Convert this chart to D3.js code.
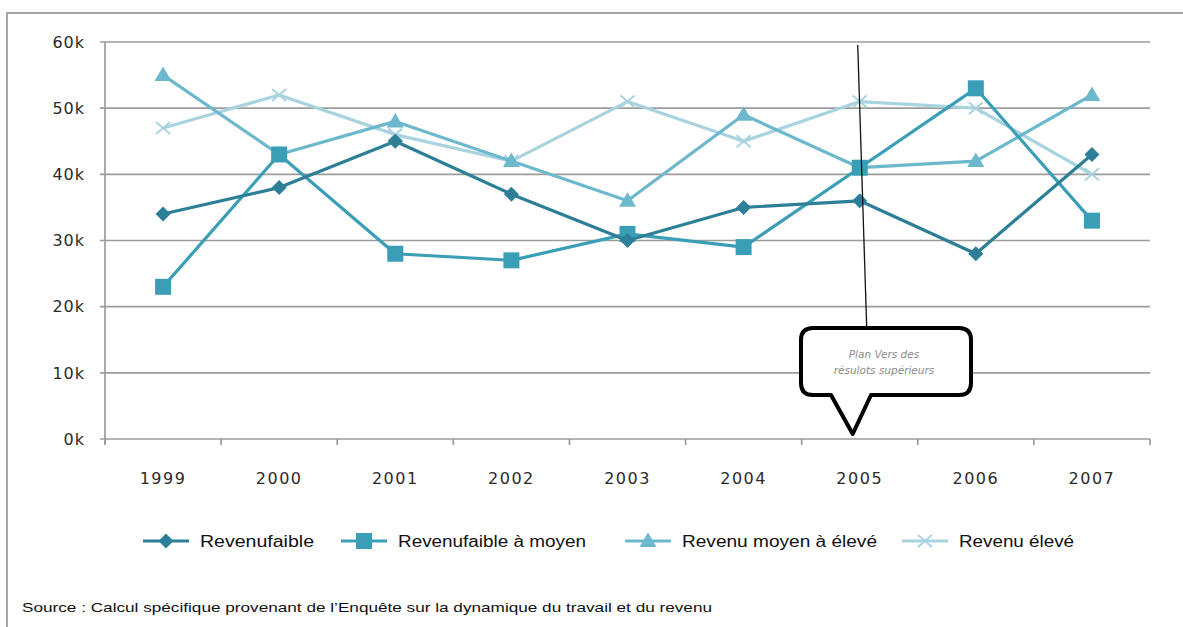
<!DOCTYPE html>
<html><head><meta charset="utf-8">
<script src="https://cdn.jsdelivr.net/npm/d3@7"></script>
<style>body{margin:0;background:#fff}svg{display:block}</style>
</head><body>
<svg id="c" width="1183" height="627"></svg>
<script>
const categories = ["1999","2000","2001","2002","2003","2004","2005","2006","2007"];
const yTicks = [0,10000,20000,30000,40000,50000,60000];
const yTickLabels = ["0k","10k","20k","30k","40k","50k","60k"];
const seriesNames = ["Revenufaible","Revenufaible à moyen","Revenu moyen à élevé","Revenu élevé"];
const revenuFaible      = [34000,38000,45000,37000,30000,35000,36000,28000,43000];
const revenuFaibleMoyen = [23000,43000,28000,27000,31000,29000,41000,53000,33000];
const revenuMoyenEleve  = [55000,43000,48000,42000,36000,49000,41000,42000,52000];
const revenuEleve       = [47000,52000,46000,42000,51000,45000,51000,50000,40000];
const calloutYear = "2005";
const calloutLines = ["Plan Vers des","résulots supérieurs"];
const sourceText = "Source : Calcul spécifique provenant de l’Enquête sur la dynamique du travail et du revenu";

const colors = ["#2c7f97","#3a9eb7","#6cb8cc","#a9d3df"];
const shapes = ["diamond","square","triangle","x"];
const series = [revenuFaible,revenuFaibleMoyen,revenuMoyenEleve,revenuEleve];

const svg = d3.select("#c");
const L=105,R=1150,T=42,B=439;
const x = d3.scaleBand().domain(categories).range([L,R]);
const y = d3.scaleLinear().domain([0,60000]).range([B,T]);

// frame
svg.append("path").attr("d","M7,627 V13 H1183").attr("fill","none").attr("stroke","#a6a6a6").attr("stroke-width",2);

// grid
svg.append("g").selectAll("line").data(yTicks).join("line")
  .attr("x1",L-5).attr("x2",R).attr("y1",d=>y(d)).attr("y2",d=>y(d))
  .attr("stroke","#9c9c9c").attr("stroke-width",1.7);
svg.append("line").attr("x1",L).attr("x2",L).attr("y1",T).attr("y2",B+5).attr("stroke","#9c9c9c").attr("stroke-width",1.7);
const bounds = categories.map(c=>x(c)).concat([R]);
svg.append("g").selectAll("line").data(bounds).join("line")
  .attr("x1",d=>d).attr("x2",d=>d).attr("y1",B).attr("y2",B+6)
  .attr("stroke","#9c9c9c").attr("stroke-width",1.7);

// y labels
svg.append("g").selectAll("text").data(yTicks).join("text")
  .attr("x",85).attr("y",d=>y(d)).attr("dy","0.36em").attr("text-anchor","end")
  .attr("font-family","DejaVu Sans").attr("font-size",16).attr("letter-spacing",1).attr("fill","#2a2a2a")
  .text((d,i)=>yTickLabels[i]);
// x labels
svg.append("g").selectAll("text").data(categories).join("text")
  .attr("x",d=>x(d)+x.bandwidth()/2).attr("y",478).attr("dy","0.36em").attr("text-anchor","middle")
  .attr("font-family","DejaVu Sans").attr("font-size",16).attr("letter-spacing",1.5).attr("fill","#2a2a2a")
  .text(d=>d);

function marker(g,shape,color,cx,cy){
  if(shape==="diamond"){
    g.append("path").attr("d",`M${cx},${cy-7.5}L${cx+7.5},${cy}L${cx},${cy+7.5}L${cx-7.5},${cy}Z`).attr("fill",color);
  }else if(shape==="square"){
    g.append("rect").attr("x",cx-8).attr("y",cy-8).attr("width",16).attr("height",16).attr("fill",color);
  }else if(shape==="triangle"){
    g.append("path").attr("d",`M${cx},${cy-8.5}L${cx+8.5},${cy+6}L${cx-8.5},${cy+6}Z`).attr("fill",color);
  }else{
    g.append("path").attr("d",`M${cx-7},${cy-6}L${cx+7},${cy+6}M${cx-7},${cy+6}L${cx+7},${cy-6}`).attr("stroke",color).attr("stroke-width",2);
  }
}

const line = d3.line().x((d,i)=>x(categories[i])+x.bandwidth()/2).y(d=>y(d));
[3,2,1,0].forEach(k=>{
  const g = svg.append("g");
  g.append("path").datum(series[k]).attr("d",line).attr("fill","none")
    .attr("stroke",colors[k]).attr("stroke-width",3.2).attr("stroke-linejoin","round");
  series[k].forEach((v,i)=>marker(g,shapes[k],colors[k],x(categories[i])+x.bandwidth()/2,y(v)));
});

// callout
const cxp = x(calloutYear)+x.bandwidth()/2;
svg.append("line").attr("x1",cxp-2).attr("y1",45).attr("x2",cxp+7).attr("y2",328).attr("stroke","#111").attr("stroke-width",1.3);
const bx0=801,bx1=971,by0=328,by1=395,r=12;
const pl=831,pr=871,tipx=cxp-7,tipy=434;
svg.append("path").attr("d",
  `M${bx0+r},${by0} H${bx1-r} Q${bx1},${by0} ${bx1},${by0+r} V${by1-r} Q${bx1},${by1} ${bx1-r},${by1} H${pr} L${tipx},${tipy} L${pl},${by1} H${bx0+r} Q${bx0},${by1} ${bx0},${by1-r} V${by0+r} Q${bx0},${by0} ${bx0+r},${by0} Z`)
  .attr("fill","#fff").attr("stroke","#000").attr("stroke-width",4).attr("stroke-linejoin","round");
svg.append("g").selectAll("text").data(calloutLines).join("text")
  .attr("x",884).attr("y",(d,i)=>354+i*16).attr("dy","0.35em").attr("text-anchor","middle")
  .attr("font-family","DejaVu Sans").attr("font-style","italic").attr("font-size",10.5).attr("fill","#8a8a8a")
  .text(d=>d);

// legend
const legX=[143,341,625,902], legTW=[114,188,195,115];
seriesNames.forEach((n,k)=>{
  const g=svg.append("g");
  const lx=legX[k], ly=541;
  g.append("line").attr("x1",lx).attr("x2",lx+46).attr("y1",ly).attr("y2",ly).attr("stroke",colors[k]).attr("stroke-width",3);
  marker(g,shapes[k],colors[k],lx+23,ly);
  g.append("text").attr("x",lx+57).attr("y",ly).attr("dy","0.35em")
    .attr("font-family","Liberation Sans").attr("font-size",16).attr("fill","#111")
    .attr("textLength",legTW[k]).attr("lengthAdjust","spacingAndGlyphs").text(n);
});

// source
svg.append("text").attr("x",22).attr("y",607).attr("dy","0.35em")
  .attr("font-family","Liberation Sans").attr("font-size",13.5).attr("fill","#111")
  .attr("textLength",690).attr("lengthAdjust","spacingAndGlyphs").text(sourceText);
</script>
</body></html>
